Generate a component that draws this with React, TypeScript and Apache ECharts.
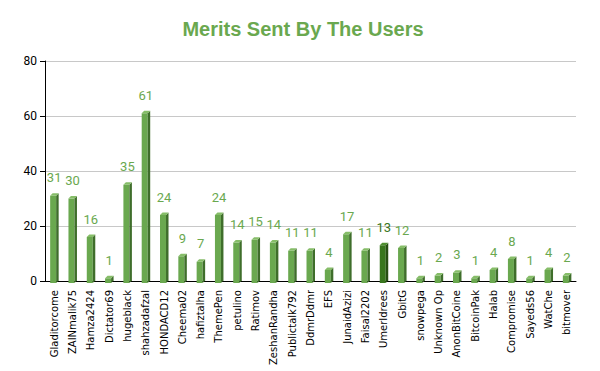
import React, { useEffect, useRef } from "react";
import * as echarts from "echarts";

const users = ["Gladitorcome", "ZAINmalik75", "Hamza2424", "Dictator69", "hugeblack", "shahzadafzal", "HONDACD12", "Cheema02", "hafiztalha", "ThemePen", "petulino", "Ratimov", "ZeshanRandha", "Publictalk792", "DdmrDdmr", "EFS", "JunaidAzizi", "Faisal2202", "UmerIdrees", "GbitG", "snowpega", "Unknown Op", "AnonBitCoine", "BitcoinPak", "Halab", "Compromise", "Sayeds56", "WatChe", "bitmover"];
const merits = [31, 30, 16, 1, 35, 61, 24, 9, 7, 24, 14, 15, 14, 11, 11, 4, 17, 11, 13, 12, 1, 2, 3, 1, 4, 8, 1, 4, 2];
const highlighted = ["UmerIdrees"];
const yTicks = [0, 20, 40, 60, 80];

export default function App() {
  const ref = useRef<HTMLDivElement>(null);
  useEffect(() => {
    const chart = echarts.init(ref.current!, null, { renderer: "svg" });
    chart.setOption({
      animation: false,
      backgroundColor: "#ffffff",
      title: {
        text: "Merits Sent By The Users",
        left: 290,
        textAlign: "center",
        top: 6,
        textStyle: { fontFamily: "Liberation Sans, Arial", fontWeight: "bold", fontSize: 20, color: "#6aa84f" },
      },
      grid: { left: 37, right: 32, top: 53, bottom: 98 },
      xAxis: {
        type: "category",
        data: users,
        axisLine: { lineStyle: { color: "#000", width: 1 } },
        axisTick: { show: false },
        axisLabel: {
          rotate: 90,
          interval: 0,
          color: "#000",
          fontSize: 10,
          fontFamily: "DejaVu Sans",
          margin: 9,
        },
      },
      yAxis: {
        type: "value",
        min: yTicks[0],
        max: yTicks[yTicks.length - 1],
        interval: 20,
        axisLine: { show: true, lineStyle: { color: "#000" } },
        axisTick: { show: true, inside: false, length: 5, lineStyle: { color: "#000" } },
        axisLabel: { color: "#000", fontSize: 12, fontFamily: "Roboto", margin: 8 },
        splitLine: { lineStyle: { color: "#c8c8c8" } },
      },
      series: [
        {
          type: "custom",
          data: merits.map((v, i) => [i, v]),
          encode: { x: 0, y: 1 },
          renderItem: (params: any, api: any) => {
            const idx = api.value(0);
            const val = api.value(1);
            const top = api.coord([idx, val]);
            const base = api.coord([idx, 0]);
            const w = 6;
            const d = 2.5;
            const x0 = top[0] - w / 2 - 1;
            const x1 = x0 + w;
            const hi = highlighted.includes(users[idx]);
            const face = hi ? "#38761d" : "#6aa84f";
            const side = hi ? "#274e13" : "#3f6e2b";
            const cap = hi ? "#4f8f30" : "#86bd68";
            const labelColor = hi ? "#38761d" : "#6aa84f";
            return {
              type: "group",
              children: [
                { type: "rect", shape: { x: x0, y: top[1], width: w, height: base[1] - top[1] + 2 }, style: { fill: face } },
                { type: "polygon", shape: { points: [[x1, top[1]], [x1 + d, top[1] - d], [x1 + d, base[1] + 2 - d], [x1, base[1] + 2]] }, style: { fill: side } },
                { type: "polygon", shape: { points: [[x0, top[1]], [x0 + d, top[1] - d], [x1 + d, top[1] - d], [x1, top[1]]] }, style: { fill: cap } },
                {
                  type: "text",
                  style: {
                    text: String(val),
                    x: top[0],
                    y: top[1] - 18,
                    align: "center",
                    verticalAlign: "middle",
                    fill: labelColor,
                    fontSize: 13,
                    fontFamily: "Roboto",
                  },
                },
              ],
            };
          },
        },
      ],
    });
    return () => chart.dispose();
  }, []);
  return <div ref={ref} style={{ width: 600, height: 371 }} />;
}
